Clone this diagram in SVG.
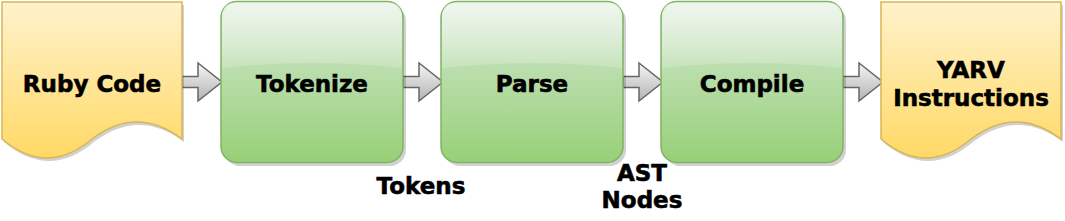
<svg xmlns="http://www.w3.org/2000/svg" width="1065" height="221" viewBox="0 0 1065 221">
<defs>
<linearGradient id="gy" x1="0" y1="0" x2="0" y2="1"><stop offset="0" stop-color="#fff2cc"/><stop offset="1" stop-color="#ffd966"/></linearGradient>
<linearGradient id="gg" x1="0" y1="0" x2="0" y2="1"><stop offset="0" stop-color="#d5e8d4"/><stop offset="1" stop-color="#97d077"/></linearGradient>
<linearGradient id="ga" x1="0" y1="0" x2="0" y2="1"><stop offset="0" stop-color="#f5f5f5"/><stop offset="1" stop-color="#b3b3b3"/></linearGradient>
<linearGradient id="glass" x1="0" y1="0" x2="0" y2="1"><stop offset="0" stop-color="#ffffff" stop-opacity="0.9"/><stop offset="1" stop-color="#ffffff" stop-opacity="0.1"/></linearGradient>
<path id="doc" d="M0,0 H180 V137 Q135,103 90,137 Q45,175 0,137 Z"/>
<path id="arr" d="M0,-5.5 H16 V-19 L40,0 L16,19 V5.5 H0 Z"/>
</defs>
<style>
.doc{fill:url(#gy);stroke:#d6b656;stroke-width:1.5}
.box{fill:url(#gg);stroke:#82b366;stroke-width:1.5}
.sh{fill:#000;opacity:0.18}
.arr{fill:url(#ga);stroke:#666666;stroke-width:1.5}
text{font-family:"DejaVu Sans",Verdana,sans-serif;font-weight:bold;font-size:23px;fill:#000;stroke:#000;stroke-width:0.6;text-anchor:middle}
</style>
<g id="connectors">
<use href="#arr" class="arr" x="182" y="82"/>
<use href="#arr" class="arr" x="403" y="82"/>
<use href="#arr" class="arr" x="623" y="82"/>
<use href="#arr" class="arr" x="843" y="82"/>
</g>
<g id="ruby">
<use href="#doc" class="sh" x="4" y="5"/>
<use href="#doc" class="doc" x="2" y="2"/>
<text x="92" y="92">Ruby Code</text>
</g>
<g id="tokenize">
<rect class="sh" x="224" y="5" width="182" height="161" rx="16"/>
<rect class="box" x="221" y="1.5" width="182" height="161" rx="16"/>
<path d="M222,82 V17 Q222,2.5 237,2.5 H387 Q402,2.5 402,17 V68 Q312,58 222,68 Z" fill="url(#glass)" opacity="0.7"/>
<text x="312" y="92">Tokenize</text>
</g>
<g id="parse">
<rect class="sh" x="444" y="5" width="182" height="161" rx="16"/>
<rect class="box" x="441" y="1.5" width="182" height="161" rx="16"/>
<path d="M442,82 V17 Q442,2.5 457,2.5 H607 Q622,2.5 622,17 V68 Q532,58 442,68 Z" fill="url(#glass)" opacity="0.7"/>
<text x="532" y="92">Parse</text>
</g>
<g id="compile">
<rect class="sh" x="664" y="5" width="182" height="161" rx="16"/>
<rect class="box" x="661" y="1.5" width="182" height="161" rx="16"/>
<path d="M662,82 V17 Q662,2.5 677,2.5 H827 Q842,2.5 842,17 V68 Q752,58 662,68 Z" fill="url(#glass)" opacity="0.7"/>
<text x="752" y="92">Compile</text>
</g>
<g id="yarv">
<use href="#doc" class="sh" x="883" y="5"/>
<use href="#doc" class="doc" x="881" y="2"/>
<text x="971" y="78">YARV</text>
<text x="971" y="106">Instructions</text>
</g>
<g id="labels">
<text x="421" y="194">Tokens</text>
<text x="642" y="181">AST</text>
<text x="642" y="208">Nodes</text>
</g>
</svg>
